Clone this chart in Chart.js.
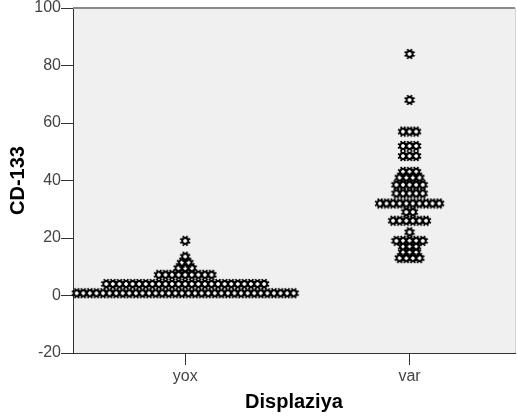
<!DOCTYPE html>
<html>
<head>
<meta charset="utf-8">
<script src="https://cdn.jsdelivr.net/npm/chart.js@4"></script>
<style>
  html, body { margin: 0; padding: 0; background: #ffffff; overflow: hidden; }
  #c { display: block; }
</style>
</head>
<body>
<canvas id="c" width="517" height="417"></canvas>
<script>
// ---- data ----
const categories = ['yox', 'var'];
// dot-plot bins (value of each stacked row) and number of cases in each row
const yoxBins   = [0.8, 4, 7.2, 9.5, 11.4, 13.5, 19];
const yoxCounts = [34, 25, 9, 3, 2, 1, 1];
const varBins   = [84, 68, 57, 52, 48.5, 43, 41, 38.5, 35.5, 32, 29, 26, 22, 19, 17, 15, 13];
const varCounts = [1, 1, 3, 3, 3, 3, 4, 5, 5, 10, 2, 6, 1, 5, 3, 3, 4];
const yTicks = [-20, 0, 20, 40, 60, 80, 100];

// horizontal spacing between stacked dots, in x-axis units
const DOT_STEP = 0.0293;

function dotPoints(catIndex, bins, counts) {
  const pts = [];
  bins.forEach((v, i) => {
    const n = counts[i];
    for (let j = 0; j < n; j++) {
      pts.push({ x: catIndex + (j - (n - 1) / 2) * DOT_STEP, y: v });
    }
  });
  return pts;
}

function makeMarker() {
  const s = 12, c = document.createElement('canvas');
  c.width = s; c.height = s;
  const g = c.getContext('2d');
  const cx = 6, cy = 6;
  g.strokeStyle = '#000';
  g.lineWidth = 1.8;
  for (let k = 0; k < 8; k++) {
    const a = k * Math.PI / 4 + Math.PI / 8;
    g.beginPath();
    g.moveTo(cx + Math.cos(a) * 2, cy + Math.sin(a) * 2);
    g.lineTo(cx + Math.cos(a) * 5.4, cy + Math.sin(a) * 5.4);
    g.stroke();
  }
  g.beginPath();
  g.arc(cx, cy, 3, 0, 2 * Math.PI);
  g.lineWidth = 1.9;
  g.stroke();
  g.beginPath();
  g.arc(cx, cy, 1.3, 0, 2 * Math.PI);
  g.fillStyle = '#ffffff';
  g.fill();
  return c;
}
const marker = makeMarker();

const plotBg = {
  id: 'plotBg',
  beforeDraw(chart) {
    const { ctx, chartArea: a } = chart;
    ctx.save();
    ctx.fillStyle = '#f0f0f0';
    ctx.fillRect(a.left, a.top, a.right - a.left, a.bottom - a.top);
    ctx.restore();
  },
  afterDraw(chart) {
    const { ctx, chartArea: a } = chart;
    ctx.save();
    ctx.strokeStyle = '#8a8a8a';
    ctx.lineWidth = 2;
    ctx.beginPath();
    ctx.moveTo(a.left, a.top);
    ctx.lineTo(a.right, a.top);
    ctx.stroke();
    ctx.strokeStyle = '#d4d4d4';
    ctx.lineWidth = 1;
    ctx.beginPath();
    ctx.moveTo(a.right + 0.5, a.top);
    ctx.lineTo(a.right + 0.5, a.bottom);
    ctx.stroke();
    ctx.restore();
  }
};

const FONT = "'Liberation Sans', Arial, sans-serif";

new Chart(document.getElementById('c'), {
  type: 'scatter',
  data: {
    datasets: [
      { label: categories[0], data: dotPoints(0, yoxBins, yoxCounts) },
      { label: categories[1], data: dotPoints(1, varBins, varCounts) }
    ]
  },
  options: {
    responsive: false,
    animation: false,
    events: [],
    layout: { autoPadding: false, padding: { top: 8, right: 2, left: 0, bottom: 0 } },
    elements: {
      point: { pointStyle: marker, radius: 5, hoverRadius: 5 }
    },
    datasets: { scatter: { clip: false } },
    plugins: {
      legend: { display: false },
      tooltip: { enabled: false }
    },
    scales: {
      x: {
        type: 'linear',
        min: -0.5,
        max: 1.47,
        afterBuildTicks: (axis) => { axis.ticks = categories.map((_, i) => ({ value: i })); },
        afterFit: (scale) => { scale.height = 64; },
        ticks: {
          callback: (v) => categories[v] ?? '',
          font: { family: FONT, size: 16 },
          color: '#444',
          padding: 2,
          maxRotation: 0
        },
        grid: { drawOnChartArea: false, tickLength: 12, color: '#333', lineWidth: 1 },
        border: { display: true, color: '#333', width: 1 },
        title: {
          display: true,
          text: 'Displaziya',
          font: { family: FONT, size: 20, weight: 'bold' },
          color: '#000',
          padding: { top: 0, bottom: 3 }
        }
      },
      y: {
        min: yTicks[0],
        max: yTicks[yTicks.length - 1],
        afterBuildTicks: (axis) => { axis.ticks = yTicks.map(v => ({ value: v })); },
        afterFit: (scale) => { scale.width = 73; scale.paddingTop = 8; },
        ticks: {
          font: { family: FONT, size: 16 },
          color: '#444',
          padding: 0
        },
        grid: { drawOnChartArea: false, tickLength: 12, color: '#333', lineWidth: 1 },
        border: { display: true, color: '#333', width: 1 },
        title: {
          display: true,
          text: 'CD-133',
          font: { family: FONT, size: 20, weight: 'bold' },
          color: '#000',
          padding: { top: 6, bottom: 0 }
        }
      }
    }
  },
  plugins: [plotBg]
});
</script>
</body>
</html>
